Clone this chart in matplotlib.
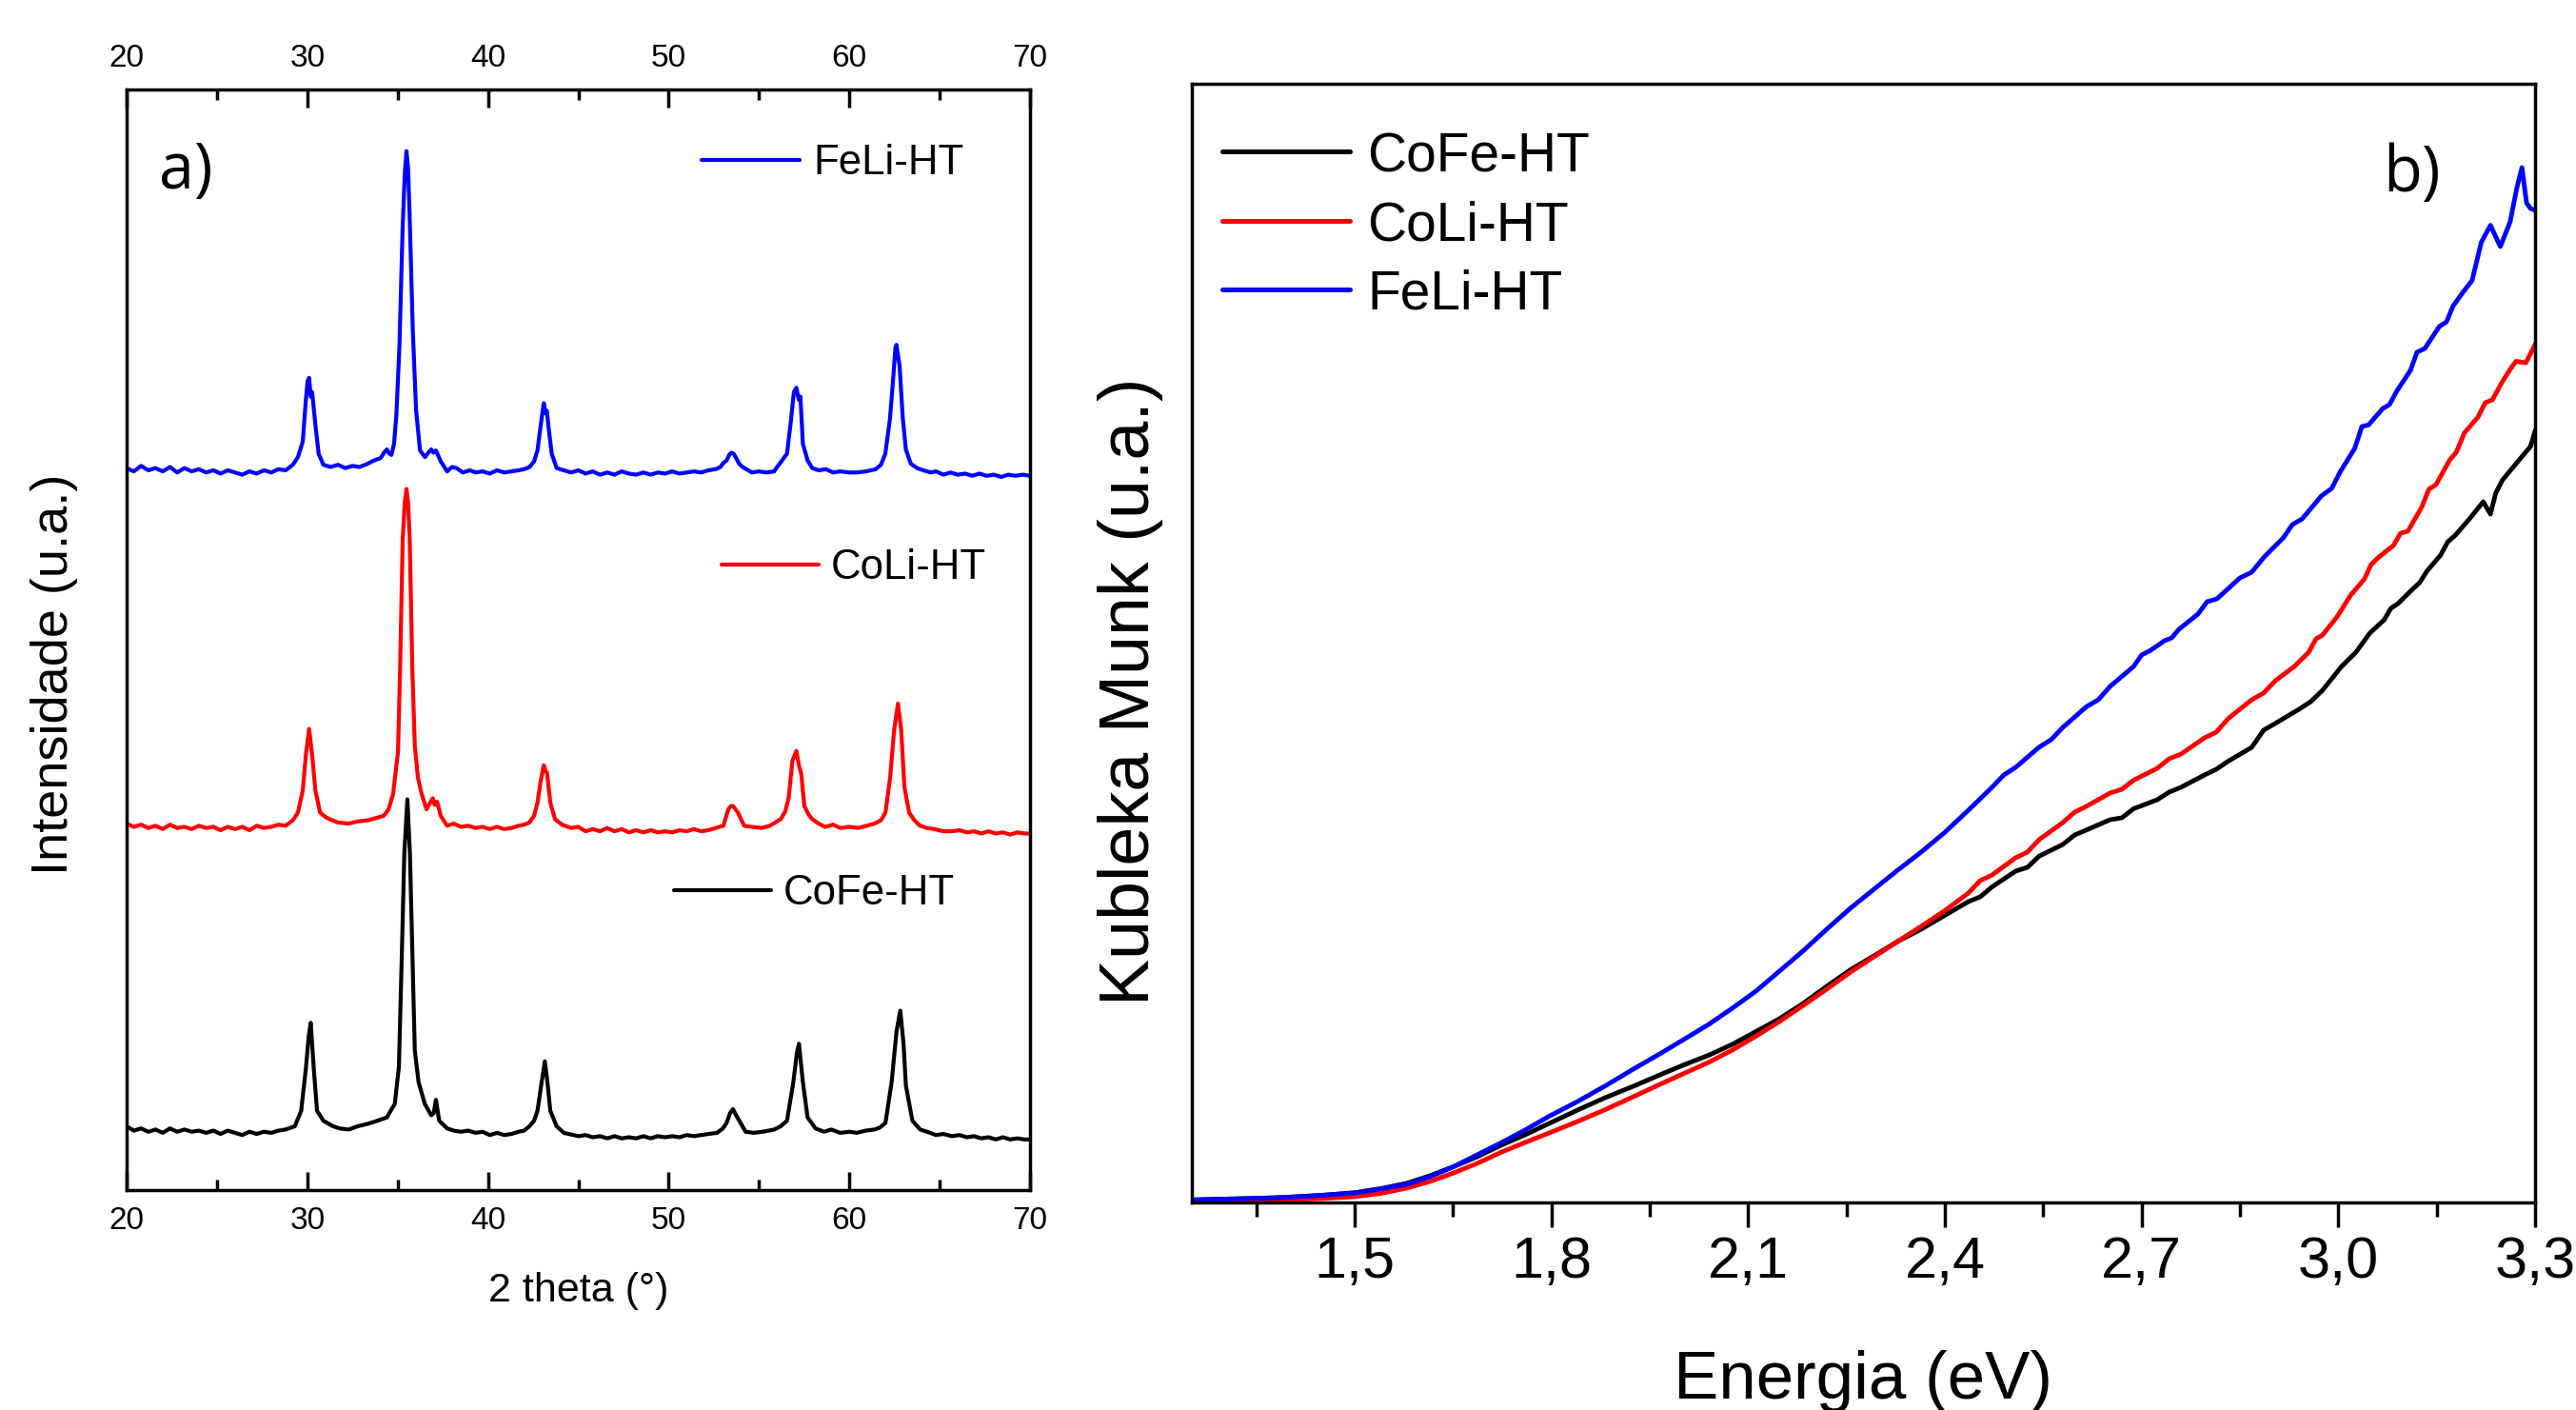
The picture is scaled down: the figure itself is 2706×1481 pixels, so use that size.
import matplotlib
matplotlib.use("Agg")
import matplotlib.pyplot as plt
from matplotlib.ticker import MultipleLocator, FixedLocator, FuncFormatter

# ---------------- data: a) XRD patterns (2 theta in degrees, stacked intensity in a.u.) ----------------
feli_2theta = [20.0, 20.4, 20.8, 21.2, 21.6, 22.0, 22.4, 22.8, 23.2, 23.6, 24.0, 24.4, 24.8, 25.2, 25.6, 26.0,
               26.4, 26.8, 27.2, 27.6, 28.0, 28.4, 28.8, 29.2, 29.48, 29.75, 29.92, 30.02, 30.10, 30.19, 30.27,
               30.45, 30.63, 30.89, 31.3, 31.7, 32.1, 32.5, 32.9, 33.35, 33.7, 34.05, 34.25, 34.40, 34.55, 34.66,
               34.80, 34.93, 35.10, 35.28, 35.40, 35.49, 35.58, 35.67, 35.84, 36.02, 36.24, 36.51, 36.70, 36.86,
               36.98, 37.12, 37.39, 37.74, 38.0, 38.27, 38.6, 39.0, 39.32, 39.7, 40.1, 40.5, 40.9, 41.3, 41.7,
               42.0, 42.30, 42.55, 42.74, 42.92, 43.09, 43.18, 43.26, 43.36, 43.53, 43.80, 44.2, 44.6, 45.0, 45.4,
               45.8, 46.2, 46.6, 47.0, 47.4, 47.8, 48.2, 48.6, 49.0, 49.4, 49.8, 50.2, 50.6, 51.0, 51.4, 51.8,
               52.2, 52.6, 52.86, 53.05, 53.21, 53.35, 53.47, 53.6, 53.74, 53.9, 54.09, 54.3, 54.61, 55.0, 55.4,
               55.84, 56.05, 56.28, 56.55, 56.76, 56.93, 57.0, 57.07, 57.2, 57.29, 57.43, 57.69, 57.95, 58.3,
               58.7, 59.1, 59.5, 60.0, 60.41, 60.9, 61.2, 61.46, 61.75, 61.99, 62.25, 62.43, 62.55, 62.61, 62.70,
               62.78, 62.96, 63.13, 63.40, 63.75, 64.1, 64.5, 64.8, 65.2, 65.6, 66.0, 66.4, 66.8, 67.2, 67.6,
               68.0, 68.4, 68.8, 69.2, 69.6, 70.0]
feli_int = [65.6, 65.3, 65.8, 65.4, 65.6, 65.3, 65.7, 65.2, 65.6, 65.3, 65.5, 65.2, 65.4, 65.1, 65.4, 65.2,
            65.0, 65.3, 65.1, 65.4, 65.2, 65.5, 65.4, 65.9, 66.6, 68.0, 71.8, 73.5, 73.8, 72.1, 72.5,
            69.5, 66.9, 65.9, 65.7, 65.9, 65.6, 65.8, 65.7, 66.0, 66.3, 66.5, 67.0, 67.3, 66.9, 66.8,
            67.8, 70.4, 76.7, 87.6, 92.5, 94.4, 92.8, 88.2, 78.1, 70.9, 67.2, 66.6, 67.0, 67.3,
            67.0, 67.2, 66.2, 65.3, 65.7, 65.6, 65.2, 65.4, 65.2, 65.3, 65.1, 65.4, 65.2, 65.3, 65.4,
            65.5, 65.7, 66.2, 67.2, 69.5, 71.5, 70.6, 70.8, 69.2, 66.9, 65.6, 65.4, 65.2, 65.4, 65.1,
            65.3, 65.0, 65.2, 65.0, 65.3, 65.1, 65.0, 65.2, 65.0, 65.2, 65.1, 65.3, 65.1, 65.2, 65.3, 65.2,
            65.4, 65.5, 65.7, 66.1, 66.3, 66.8, 67.0, 66.9, 66.5, 66.0, 65.7, 65.5, 65.2, 65.3, 65.2,
            65.3, 65.8, 66.3, 66.9, 69.8, 72.5, 72.7, 72.9, 71.8, 72.1, 67.8, 66.3, 65.6, 65.4,
            65.5, 65.2, 65.3, 65.2, 65.2, 65.3, 65.4, 65.5, 65.9, 66.9, 70.1, 73.8, 76.5, 76.8, 75.8,
            74.9, 70.1, 67.3, 66.0, 65.6, 65.4, 65.2, 65.3, 65.0, 65.2, 65.0, 65.1, 64.9, 65.1, 64.9,
            65.0, 64.8, 65.0, 64.9, 65.0, 64.9]

coli_2theta = [20.0, 20.4, 20.8, 21.2, 21.6, 22.0, 22.4, 22.8, 23.2, 23.6, 24.0, 24.4, 24.8, 25.2, 25.6, 26.0,
               26.4, 26.8, 27.2, 27.6, 28.0, 28.4, 28.8, 29.2, 29.48, 29.75, 29.92, 30.10, 30.27, 30.45, 30.71,
               31.0, 31.24, 31.7, 32.29, 32.8, 33.35, 33.8, 34.23, 34.5, 34.75, 35.02, 35.14, 35.28, 35.40,
               35.49, 35.58, 35.67, 35.81, 35.95, 36.12, 36.33, 36.6, 36.8, 36.95, 37.05, 37.18, 37.39, 37.74,
               38.1, 38.5, 38.9, 39.32, 39.7, 40.1, 40.5, 40.9, 41.3, 41.7, 42.0, 42.3, 42.55, 42.74, 42.92,
               43.09, 43.18, 43.27, 43.45, 43.71, 44.1, 44.6, 45.0, 45.4, 45.8, 46.2, 46.6, 47.0, 47.4, 47.8,
               48.2, 48.6, 49.0, 49.4, 49.8, 50.2, 50.6, 51.0, 51.4, 51.8, 52.2, 52.6, 53.03, 53.30, 53.45,
               53.56, 53.83, 54.18, 54.6, 55.14, 55.6, 55.9, 56.2, 56.45, 56.64, 56.85, 57.07, 57.21, 57.34,
               57.51, 57.75, 57.95, 58.3, 58.65, 59.1, 59.5, 60.0, 60.5, 60.94, 61.4, 61.75, 62.0, 62.26,
               62.48, 62.69, 62.87, 63.05, 63.31, 63.6, 63.92, 64.3, 64.7, 65.2, 65.68, 66.1, 66.5, 66.9,
               67.3, 67.7, 68.1, 68.5, 68.9, 69.3, 69.7, 70.0]
coli_int = [33.3, 33.0, 33.2, 32.9, 33.1, 32.8, 33.2, 32.9, 33.0, 32.8, 33.1, 32.9, 33.0, 32.7, 33.0, 32.8,
            33.0, 32.7, 33.1, 32.9, 33.0, 33.2, 33.1, 33.6, 34.3, 36.3, 39.5, 41.9, 39.5, 36.3, 34.3,
            33.9, 33.7, 33.4, 33.3, 33.5, 33.6, 33.8, 34.0, 34.6, 36.0, 39.8, 47.6, 59.1, 62.6,
            63.7, 62.5, 59.1, 47.6, 40.4, 37.5, 36.0, 34.6, 35.2, 35.6, 35.0, 35.3, 34.0, 33.1,
            33.3, 33.0, 33.1, 32.9, 33.0, 32.8, 33.0, 32.8, 32.9, 33.1, 33.2, 33.4, 34.0, 35.2, 37.2,
            38.6, 38.1, 37.9, 35.2, 33.7, 33.2, 32.9, 33.0, 32.6, 32.8, 32.6, 32.9, 32.6, 32.8, 32.5,
            32.7, 32.5, 32.7, 32.5, 32.6, 32.5, 32.7, 32.6, 32.8, 32.6, 32.7, 32.9, 33.1, 34.6, 34.9,
            34.9, 34.3, 33.1, 33.0, 32.9, 33.1, 33.4, 33.7, 34.4, 35.6, 39.0, 39.9, 38.6, 37.8,
            34.9, 34.1, 33.7, 33.3, 33.0, 33.2, 32.9, 33.0, 32.9, 33.1, 33.3, 33.6, 34.3, 37.5,
            41.8, 44.2, 41.8, 36.6, 34.3, 33.6, 33.1, 32.9, 32.8, 32.6, 32.6, 32.7, 32.5, 32.6,
            32.4, 32.6, 32.4, 32.5, 32.3, 32.5, 32.4, 32.4]

cofe_2theta = [20.0, 20.4, 20.8, 21.2, 21.6, 22.0, 22.4, 22.8, 23.2, 23.6, 24.0, 24.4, 24.8, 25.2, 25.6, 26.0,
               26.4, 26.8, 27.2, 27.6, 28.0, 28.4, 28.8, 29.31, 29.66, 29.92, 30.08, 30.19, 30.36, 30.54,
               30.89, 31.42, 31.8, 32.29, 32.8, 33.3, 33.70, 34.05, 34.40, 34.65, 34.84, 35.07, 35.24, 35.37,
               35.54, 35.68, 35.81, 35.95, 36.16, 36.51, 36.86, 37.0, 37.12, 37.30, 37.74, 38.1, 38.5, 38.9,
               39.32, 39.7, 40.1, 40.5, 40.9, 41.3, 41.7, 42.0, 42.3, 42.55, 42.74, 42.97, 43.15, 43.29,
               43.45, 43.8, 44.2, 44.6, 45.0, 45.4, 45.8, 46.2, 46.6, 47.0, 47.4, 47.8, 48.2, 48.6, 49.0,
               49.4, 49.8, 50.2, 50.6, 51.0, 51.4, 51.8, 52.2, 52.68, 53.0, 53.21, 53.4, 53.56, 53.7, 53.91,
               54.26, 54.7, 55.2, 55.84, 56.2, 56.55, 56.9, 57.1, 57.21, 57.43, 57.69, 58.13, 58.6, 59.0,
               59.5, 60.0, 60.41, 60.9, 61.4, 61.7, 62.0, 62.34, 62.61, 62.82, 63.0, 63.13, 63.49, 63.92,
               64.3, 64.8, 65.2, 65.68, 66.1, 66.5, 66.9, 67.3, 67.7, 68.1, 68.5, 68.9, 69.3, 69.7, 70.0]
cofe_int = [5.8, 5.4, 5.6, 5.3, 5.5, 5.2, 5.6, 5.3, 5.5, 5.3, 5.4, 5.2, 5.4, 5.1, 5.4, 5.2,
            5.0, 5.3, 5.1, 5.3, 5.2, 5.4, 5.5, 5.8, 7.2, 11.0, 14.0, 15.2, 11.0, 7.2,
            6.3, 5.8, 5.6, 5.5, 5.8, 6.0, 6.2, 6.4, 6.6, 7.3, 7.8, 11.2, 21.9, 30.6,
            35.5, 30.6, 21.9, 12.7, 9.8, 7.8, 6.8, 7.0, 8.2, 6.3, 5.6, 5.4, 5.3, 5.4,
            5.2, 5.3, 5.0, 5.2, 5.0, 5.1, 5.3, 5.4, 5.8, 6.3, 7.2, 9.8, 11.7, 9.8,
            7.2, 5.8, 5.2, 5.05, 4.9, 5.0, 4.8, 4.9, 4.7, 4.9, 4.7, 4.8, 4.7, 4.9, 4.7,
            4.9, 4.8, 4.9, 4.8, 5.0, 4.9, 5.0, 5.1, 5.2, 5.6, 6.1, 7.0, 7.35, 6.9, 6.3,
            5.3, 5.2, 5.3, 5.5, 5.8, 6.3, 9.8, 12.5, 13.3, 9.8, 6.6, 5.6, 5.3, 5.5,
            5.2, 5.3, 5.2, 5.4, 5.5, 5.7, 6.1, 9.8, 14.4, 16.3, 13.3, 9.5, 6.3, 5.5,
            5.3, 5.0, 5.1, 4.9, 5.0, 4.8, 4.9, 4.7, 4.8, 4.6, 4.8, 4.6, 4.7, 4.6, 4.6]

# ---------------- data: b) Kubelka-Munk vs photon energy ----------------
energy_cofe = [1.253, 1.30, 1.35, 1.392, 1.45, 1.50, 1.54, 1.579, 1.615, 1.651, 1.687, 1.723, 1.76, 1.795,
               1.84, 1.882, 1.925, 1.968, 2.004, 2.040, 2.076, 2.112, 2.148, 2.184, 2.22, 2.256, 2.292,
               2.328, 2.364, 2.400, 2.436, 2.454, 2.472, 2.508, 2.526, 2.544, 2.58, 2.598, 2.616, 2.652,
               2.67, 2.688, 2.724, 2.742, 2.760, 2.796, 2.814, 2.832, 2.868, 2.886, 2.904, 2.94, 2.958,
               2.976, 3.005, 3.027, 3.048, 3.07, 3.08, 3.091, 3.113, 3.124, 3.135, 3.156, 3.167, 3.178,
               3.2, 3.221, 3.232, 3.240, 3.250, 3.271, 3.293, 3.300]
km_cofe = [0.0027, 0.0035, 0.0043, 0.0052, 0.0075, 0.0102, 0.0145, 0.020, 0.028, 0.0376, 0.048, 0.060, 0.071,
           0.0824, 0.097, 0.110, 0.122, 0.1347, 0.145, 0.1546, 0.166, 0.1795, 0.193, 0.209, 0.227, 0.2443,
           0.259, 0.2741, 0.287, 0.3015, 0.316, 0.321, 0.3314, 0.348, 0.352, 0.3638, 0.376, 0.386, 0.3912,
           0.402, 0.404, 0.4136, 0.423, 0.431, 0.436, 0.449, 0.455, 0.4634, 0.478, 0.496, 0.5032, 0.518,
           0.526, 0.538, 0.563, 0.578, 0.598, 0.612, 0.624, 0.629, 0.644, 0.651, 0.663, 0.680, 0.694,
           0.7005, 0.718, 0.736, 0.723, 0.745, 0.7585, 0.776, 0.794, 0.81]

energy_coli = [1.253, 1.30, 1.35, 1.392, 1.45, 1.50, 1.54, 1.579, 1.615, 1.651, 1.687, 1.723, 1.76, 1.795,
               1.84, 1.882, 1.925, 1.968, 2.004, 2.040, 2.076, 2.112, 2.148, 2.184, 2.22, 2.256, 2.292,
               2.328, 2.364, 2.400, 2.436, 2.454, 2.472, 2.508, 2.526, 2.544, 2.58, 2.598, 2.616, 2.652,
               2.67, 2.688, 2.724, 2.742, 2.760, 2.796, 2.814, 2.832, 2.868, 2.886, 2.904, 2.933, 2.955,
               2.966, 2.976, 2.998, 3.019, 3.04, 3.05, 3.062, 3.084, 3.095, 3.106, 3.127, 3.138, 3.149,
               3.17, 3.18, 3.192, 3.213, 3.224, 3.235, 3.25, 3.262, 3.271, 3.286, 3.3]
km_coli = [0.001, 0.0015, 0.002, 0.0028, 0.0042, 0.006, 0.0095, 0.015, 0.022, 0.031, 0.041, 0.0525, 0.063,
           0.0725, 0.085, 0.0974, 0.111, 0.1248, 0.136, 0.1472, 0.160, 0.1746, 0.190, 0.2069, 0.224, 0.2418,
           0.258, 0.2741, 0.290, 0.3065, 0.325, 0.338, 0.3439, 0.362, 0.368, 0.3812, 0.399, 0.410, 0.4161,
           0.430, 0.434, 0.4435, 0.456, 0.466, 0.4709, 0.488, 0.494, 0.5082, 0.528, 0.535, 0.548, 0.563,
           0.578, 0.592, 0.596, 0.615, 0.638, 0.655, 0.670, 0.678, 0.690, 0.703, 0.705, 0.730, 0.749,
           0.754, 0.780, 0.788, 0.808, 0.825, 0.840, 0.843, 0.862, 0.875, 0.8835, 0.882, 0.901]

energy_feli = [1.253, 1.30, 1.35, 1.392, 1.45, 1.50, 1.54, 1.579, 1.615, 1.651, 1.687, 1.723, 1.76, 1.795,
               1.84, 1.882, 1.925, 1.968, 2.004, 2.040, 2.076, 2.112, 2.148, 2.184, 2.22, 2.256, 2.292,
               2.328, 2.364, 2.400, 2.436, 2.472, 2.49, 2.508, 2.544, 2.562, 2.58, 2.616, 2.634, 2.652,
               2.688, 2.70, 2.714, 2.735, 2.746, 2.757, 2.786, 2.80, 2.815, 2.85, 2.868, 2.887, 2.916,
               2.93, 2.945, 2.974, 2.99, 3.003, 3.025, 3.036, 3.046, 3.068, 3.078, 3.089, 3.11, 3.12,
               3.132, 3.154, 3.165, 3.175, 3.19, 3.204, 3.218, 3.232, 3.247, 3.262, 3.272, 3.28, 3.287,
               3.293, 3.3]
km_feli = [0.0027, 0.0035, 0.0043, 0.0052, 0.0075, 0.010, 0.0142, 0.019, 0.027, 0.0376, 0.050, 0.0625, 0.076,
           0.0899, 0.106, 0.1223, 0.140, 0.1571, 0.172, 0.187, 0.204, 0.2219, 0.243, 0.2642, 0.287, 0.309,
           0.329, 0.3489, 0.368, 0.3887, 0.412, 0.436, 0.449, 0.457, 0.4783, 0.486, 0.499, 0.5207, 0.528,
           0.542, 0.563, 0.575, 0.58, 0.590, 0.593, 0.602, 0.618, 0.631, 0.634, 0.656, 0.662, 0.678, 0.698,
           0.712, 0.718, 0.742, 0.750, 0.7675, 0.792, 0.815, 0.8166, 0.834, 0.838, 0.852, 0.874, 0.893,
           0.897, 0.92, 0.925, 0.9416, 0.956, 0.9684, 1.0085, 1.0264, 1.004, 1.03, 1.065, 1.087, 1.05,
           1.044, 1.042]

labels = ["CoFe-HT", "CoLi-HT", "FeLi-HT"]
colors = ["#000000", "#ff0000", "#0000ff"]
xrd_ticks = [20, 30, 40, 50, 60, 70]
km_ticks = [1.5, 1.8, 2.1, 2.4, 2.7, 3.0, 3.3]
km_minor = [1.35, 1.65, 1.95, 2.25, 2.55, 2.85, 3.15]

# ---------------- figure ----------------
W, H, DPI = 2706, 1481, 100
plt.rcParams['font.family'] = ['Liberation Sans', 'DejaVu Sans']
fig = plt.figure(figsize=(W / DPI, H / DPI), dpi=DPI)


def box(x0, y0, x1, y1):
    return [x0 / W, 1 - y1 / H, (x1 - x0) / W, (y1 - y0) / H]


axA = fig.add_axes(box(133, 94, 1082, 1250))
axB = fig.add_axes(box(1252, 88, 2663, 1263))

# ----- panel a -----
for xs, ys, c in [(cofe_2theta, cofe_int, colors[0]), (coli_2theta, coli_int, colors[1]),
                  (feli_2theta, feli_int, colors[2])]:
    axA.plot(xs, ys, color=c, lw=3.0, solid_joinstyle='round')
axA.set_xlim(20, 70)
axA.set_ylim(0, 100)
axA.xaxis.set_major_locator(FixedLocator(xrd_ticks))
axA.xaxis.set_minor_locator(MultipleLocator(5))
axA.tick_params(axis='x', which='both', direction='in', top=True, bottom=True,
                labeltop=True, labelbottom=True, width=2.5, labelsize=24, pad=12)
axA.tick_params(axis='x', which='major', length=14)
axA.tick_params(axis='x', which='minor', length=8)
axA.set_yticks([])
for s in axA.spines.values():
    s.set_linewidth(2.5)
axA.set_xlabel("2 theta (°)", fontsize=31)
axA.xaxis.set_label_coords(0.5, -0.1012)
axA.xaxis.label.set_verticalalignment('baseline')
axA.set_ylabel("Intensidade (u.a.)", fontsize=39)
axA.yaxis.set_label_coords(-0.0801, 0.469)
axA.yaxis.label.set_verticalalignment('center')

# legend entries of panel a (line sample + text)
legA = [("FeLi-HT", colors[2], 0.6365, 0.745, 0.936, 0.760, 0.923),
        ("CoLi-HT", colors[1], 0.6586, 0.766, 0.568, 0.780, 0.5554),
        ("CoFe-HT", colors[0], 0.606, 0.7134, 0.2725, 0.727, 0.2595)]
for name, c, lx0, lx1, ly, tx, ty in legA:
    axA.plot([lx0, lx1], [ly, ly], color=c, lw=3.0, transform=axA.transAxes, solid_capstyle='round')
    axA.text(tx, ty, name, fontsize=31.5, transform=axA.transAxes, ha='left', va='baseline')
axA.text(0.036, 0.910, "a)", fontsize=48, family=['Open Sans', 'DejaVu Sans'],
         transform=axA.transAxes, ha='left', va='baseline')

# ----- panel b -----
for xs, ys, c, name in [(energy_cofe, km_cofe, colors[0], labels[0]),
                        (energy_coli, km_coli, colors[1], labels[1]),
                        (energy_feli, km_feli, colors[2], labels[2])]:
    axB.plot(xs, ys, color=c, lw=3.5, label=name, solid_joinstyle='round')
axB.set_xlim(1.252, 3.3)
axB.set_ylim(0, 1.175)
axB.xaxis.set_major_locator(FixedLocator(km_ticks))
axB.xaxis.set_minor_locator(FixedLocator(km_minor))
axB.xaxis.set_major_formatter(FuncFormatter(lambda v, p: f"{v:.1f}".replace('.', ',')))
axB.tick_params(axis='x', which='both', direction='out', top=False, bottom=True, width=2.5,
                labelsize=44, pad=6)
axB.tick_params(axis='x', which='major', length=19)
axB.tick_params(axis='x', which='minor', length=11)
axB.set_yticks([])
for s in axB.spines.values():
    s.set_linewidth(2.5)
axB.set_xlabel("Energia (eV)", fontsize=51)
axB.xaxis.set_label_coords(0.5, -0.1753)
axB.xaxis.label.set_verticalalignment('baseline')
axB.set_ylabel("Kubleka Munk (u.a.)", fontsize=53)
axB.yaxis.set_label_coords(-0.0454, 0.457)
axB.yaxis.label.set_verticalalignment('center')

legB = [(labels[0], colors[0], 0.9396, 0.9217),
        (labels[1], colors[1], 0.8774, 0.8596),
        (labels[2], colors[2], 0.8162, 0.7983)]
for name, c, ly, ty in legB:
    axB.plot([0.0227, 0.1176], [ly, ly], color=c, lw=3.6, transform=axB.transAxes, solid_capstyle='round')
    axB.text(0.1304, ty, name, fontsize=41, transform=axB.transAxes, ha='left', va='baseline')
axB.text(0.887, 0.904, "b)", fontsize=48, family=['Open Sans', 'DejaVu Sans'],
         transform=axB.transAxes, ha='left', va='baseline')

fig.savefig("out.png", dpi=DPI)
